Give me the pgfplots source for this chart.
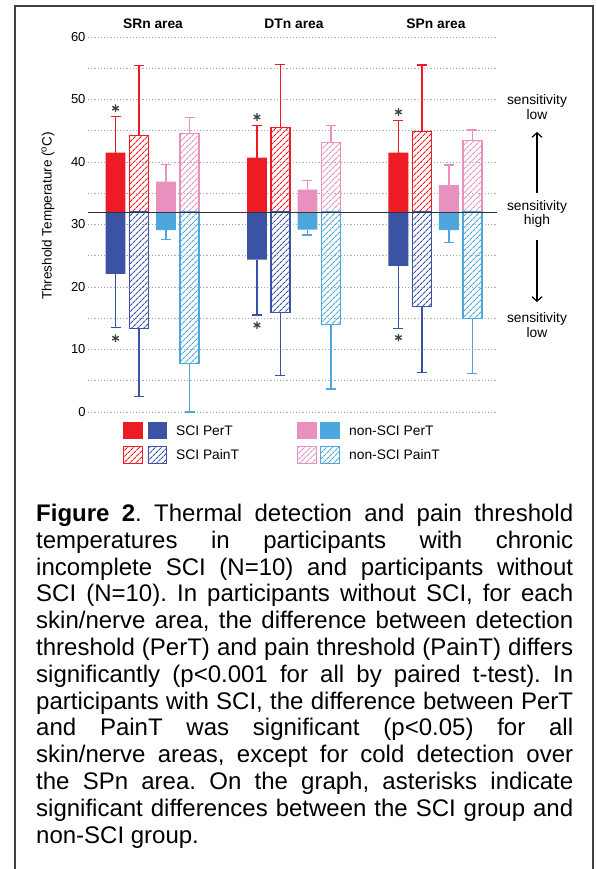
\documentclass[border=0pt]{standalone}
\usepackage{fontspec}
\setmainfont{Liberation Sans}
\usepackage{pgfplots}
\pgfplotsset{compat=1.18}
\usepackage{pgfplotstable}
\usetikzlibrary{patterns.meta, arrows.meta}

\definecolor{sciRed}{HTML}{ED1C24}
\definecolor{sciBlue}{HTML}{3A53A4}
\definecolor{nonPink}{HTML}{E890BE}
\definecolor{nonBlue}{HTML}{4DA7DC}
\definecolor{frameGray}{HTML}{404040}

% threshold temperatures (degC): area, warm bar, warm whisker end, cold bar, cold whisker end
\pgfplotstableread{
g hot hotend cold coldend
0 41.5 47.3 22.1 13.5
1 40.7 45.8 24.4 15.5
2 41.5 46.6 23.4 13.4
}\sciPerT
\pgfplotstableread{
g hot hotend cold coldend
0 44.3 55.4 13.4 2.5
1 45.5 55.6 15.9 5.8
2 44.85 55.5 16.85 6.3
}\sciPainT
\pgfplotstableread{
g hot hotend cold coldend
0 36.85 39.6 29.1 27.6
1 35.6 37.0 29.2 28.3
2 36.3 39.5 29.1 27.1
}\nonPerT
\pgfplotstableread{
g hot hotend cold coldend
0 44.5 47.1 7.7 0.0
1 43.1 45.8 14.0 3.7
2 43.4 45.1 15.0 6.2
}\nonPainT
% asterisks (significant SCI vs non-SCI)
\pgfplotstableread{
g y
0 48.6
1 47.2
2 48.0
0 11.8
1 13.9
2 11.9
}\stars

\pgfplotsset{
  solidbar/.style={ybar, bar width=0.141, bar shift=0pt, fill=#1, draw=none},
  hatchbar/.style={ybar, bar width=0.134, bar shift=0pt, draw=#1, line width=1.2bp,
    pattern={Lines[angle=45,distance=3.9bp,line width=1.2bp]}, pattern color=#1},
  whisker/.style={error bars/y explicit,
    error bars/error bar style={#1, line width=1.4bp, solid},
    error bars/error mark options={rotate=90, #1, mark size=5bp, line width=1.4bp}},
}

\begin{document}
\begin{tikzpicture}
\begin{axis}[
  at={(88bp,-412bp)}, anchor=south west,
  scale only axis, width=409bp, height=375bp,
  xmin=-0.456, xmax=2.435, ymin=-32, ymax=28,
  axis line style={draw=none},
  xtick=\empty,
  ytick={-32,-22,-12,-2,8,18,28},
  yticklabels={0,10,20,30,40,50,60},
  minor ytick={-27,-17,-7,3,13,23},
  major tick length=0pt, minor tick length=0pt,
  ymajorgrids, yminorgrids,
  major grid style={gray!65, line width=1bp, dash pattern=on 1.2bp off 2bp},
  minor grid style={gray!65, line width=1bp, dash pattern=on 1.2bp off 2bp},
  yticklabel style={font=\fontsize{13bp}{15bp}\selectfont, xshift=1bp},
  clip=false,
]
% warm side (above 32 degC)
\addplot[solidbar=sciRed, error bars/y dir=plus, whisker=sciRed]
  table[x expr=\thisrow{g}-0.2615, y expr=\thisrow{hot}-32, y error plus expr=\thisrow{hotend}-\thisrow{hot}] {\sciPerT};
\addplot[hatchbar=sciRed, error bars/y dir=plus, whisker=sciRed]
  table[x expr=\thisrow{g}-0.0954, y expr=\thisrow{hot}-32, y error plus expr=\thisrow{hotend}-\thisrow{hot}] {\sciPainT};
\addplot[solidbar=nonPink, error bars/y dir=plus, whisker=nonPink]
  table[x expr=\thisrow{g}+0.0954, y expr=\thisrow{hot}-32, y error plus expr=\thisrow{hotend}-\thisrow{hot}] {\nonPerT};
\addplot[hatchbar=nonPink, error bars/y dir=plus, whisker=nonPink]
  table[x expr=\thisrow{g}+0.2615, y expr=\thisrow{hot}-32, y error plus expr=\thisrow{hotend}-\thisrow{hot}] {\nonPainT};
% cold side (below 32 degC)
\addplot[solidbar=sciBlue, error bars/y dir=minus, whisker=sciBlue]
  table[x expr=\thisrow{g}-0.2615, y expr=\thisrow{cold}-32, y error minus expr=\thisrow{cold}-\thisrow{coldend}] {\sciPerT};
\addplot[hatchbar=sciBlue, error bars/y dir=minus, whisker=sciBlue]
  table[x expr=\thisrow{g}-0.0954, y expr=\thisrow{cold}-32, y error minus expr=\thisrow{cold}-\thisrow{coldend}] {\sciPainT};
\addplot[solidbar=nonBlue, error bars/y dir=minus, whisker=nonBlue]
  table[x expr=\thisrow{g}+0.0954, y expr=\thisrow{cold}-32, y error minus expr=\thisrow{cold}-\thisrow{coldend}] {\nonPerT};
\addplot[hatchbar=nonBlue, error bars/y dir=minus, whisker=nonBlue]
  table[x expr=\thisrow{g}+0.2615, y expr=\thisrow{cold}-32, y error minus expr=\thisrow{cold}-\thisrow{coldend}] {\nonPainT};
% asterisks
\addplot[only marks, mark=asterisk, mark size=3.8bp, mark options={line width=1.3bp, black!75}]
  table[x expr=\thisrow{g}-0.2615, y expr=\thisrow{y}-32] {\stars};
% 32 degC reference line
\draw[black!80, line width=1bp] (axis cs:-0.456,0) -- (axis cs:2.435,0);
\end{axis}

\begin{scope}[x=1bp, y=1bp]
  % frame
  \draw[frameGray, line width=1.5bp] (15,-869) -- (15,-6) -- (593,-6) -- (593,-869);
  % area titles
  \node[font=\bfseries\fontsize{13.8bp}{16bp}\selectfont] at (153,-24) {SRn area};
  \node[font=\bfseries\fontsize{13.8bp}{16bp}\selectfont] at (294,-24) {DTn area};
  \node[font=\bfseries\fontsize{13.8bp}{16bp}\selectfont] at (436,-24) {SPn area};
  % y label
  \node[rotate=90, font=\fontsize{13.5bp}{16bp}\selectfont] at (48,-216) {Threshold Temperature (\textsuperscript{o}C)};
  % sensitivity annotations
  \begin{scope}[every node/.style={align=center, font=\fontsize{13.8bp}{14.5bp}\selectfont}]
    \node at (537,-107) {sensitivity\\low};
    \node at (537,-214) {sensitivity\\high};
    \node at (537,-325) {sensitivity\\low};
  \end{scope}
  \draw[line width=1.2bp, -{Straight Barb[length=4.5bp,width=10bp]}] (537,-193) -- (537,-132);
  \draw[line width=1.2bp, -{Straight Barb[length=4.5bp,width=10bp]}] (537,-240) -- (537,-302);
  % legend
  \fill[sciRed] (123,-422) rectangle (143,-439);
  \fill[sciBlue] (148,-422) rectangle (167,-439);
  \fill[nonPink] (297,-422) rectangle (317,-439);
  \fill[nonBlue] (320,-422) rectangle (340,-439);
  \draw[sciRed, line width=1.2bp, pattern={Lines[angle=45,distance=3.9bp,line width=1.2bp]}, pattern color=sciRed] (123.5,-446.5) rectangle (142.5,-463.5);
  \draw[sciBlue, line width=1.2bp, pattern={Lines[angle=45,distance=3.9bp,line width=1.2bp]}, pattern color=sciBlue] (148.5,-446.5) rectangle (166.5,-463.5);
  \draw[nonPink, line width=1.2bp, pattern={Lines[angle=45,distance=3.9bp,line width=1.2bp]}, pattern color=nonPink] (297.5,-446.5) rectangle (316.5,-463.5);
  \draw[nonBlue, line width=1.2bp, pattern={Lines[angle=45,distance=3.9bp,line width=1.2bp]}, pattern color=nonBlue] (320.5,-446.5) rectangle (339.5,-463.5);
  \begin{scope}[every node/.style={anchor=west, inner sep=0pt, font=\fontsize{13.8bp}{16bp}\selectfont}]
    \node at (176,-430.5) {SCI PerT};
    \node at (176,-455) {SCI PainT};
    \node at (349,-430.5) {non-SCI PerT};
    \node at (349,-455) {non-SCI PainT};
  \end{scope}
  % caption
  \node[anchor=north west, inner sep=0pt, text width=537bp, align=justify,
        font=\fontsize{24bp}{26.8bp}\selectfont] at (36,-504) {\frenchspacing\tolerance=10000\hyphenpenalty=10000
    \textbf{Figure 2}. Thermal detection and pain threshold\linebreak
    temperatures in participants with chronic\linebreak
    incomplete SCI (N=10) and participants without\linebreak
    SCI (N=10). In participants without SCI, for each\linebreak
    skin/nerve area, the difference between detection\linebreak
    threshold (PerT) and pain threshold (PainT) differs\linebreak
    significantly (p<0.001 for all by paired t-test). In\linebreak
    participants with SCI, the difference between PerT\linebreak
    and PainT was significant (p<0.05) for all\linebreak
    skin/nerve areas, except for cold detection over\linebreak
    the SPn area. On the graph, asterisks indicate\linebreak
    significant differences between the SCI group and\linebreak
    non-SCI group.};
\end{scope}
\pgfresetboundingbox
\path[use as bounding box] (0bp,0bp) rectangle (597bp,-869bp);
\end{tikzpicture}
\end{document}
